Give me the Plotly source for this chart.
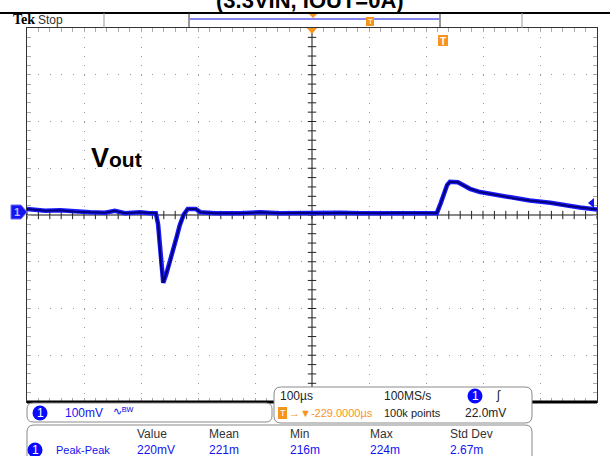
import plotly.graph_objects as go

# Vout trace (time in µs from screen centre, volts in mV from centre line)
time_us = [-500, -486, -468, -442, -416, -389, -363, -346, -328, -302, -284, -274,
           -270, -268, -265, -261, -256, -249, -244, -237, -232, -225, -218, -204, -196,
           -170, -126, -91, -56, -21, 14, 49, 84, 119, 154, 189, 219,
           226, 232, 237, 242, 256, 265, 277, 295, 321, 353, 382, 418, 447, 470, 500]
volt_mv = [13, 11, 9, 10, 7, 6, 5, 9, 4, 6, 4, 4,
           -20, -53, -107, -145, -128, -100, -76, -45, -22, 1, 13, 13, 6,
           4, 4, 6, 4, 5, 4, 5, 4, 4, 5, 4, 4,
           26, 49, 64, 71, 70, 64, 56, 49, 43, 36, 31, 26, 20, 16, 12]

title = "(3.3VIN, IOUT=0A)"
ch_scale = "100mV"
timebase = "100µs"
sample_rate = "100MS/s"
trig_pos = "→▼-229.0000µs"
record = "100k points"
trig_level = "22.0mV"
meas_cols = ["Value", "Mean", "Min", "Max", "Std Dev"]
meas_row = ["220mV", "221m", "216m", "224m", "2.67m"]
meas_name = "Peak-Peak"

# screen geometry in pixels
L, R, T, B = 27, 597, 28, 402
W, H = 610, 456
BLUE = "#1414f0"
ORANGE = "#f7941d"
FONT = "Liberation Sans Narrow, Arial Narrow, Liberation Sans, sans-serif"


def px(x):
    return (x - L) / (R - L)


def py(y):
    return (B - y) / (B - T)


def rbox(x0, y0, x1, y1, r):
    rx, ry = r / (R - L), r / (B - T)
    a, b, c, d = px(x0), py(y0), px(x1), py(y1)
    return (f"M{a+rx},{b} L{c-rx},{b} Q{c},{b} {c},{b-ry} L{c},{d+ry} Q{c},{d} {c-rx},{d} "
            f"L{a+rx},{d} Q{a},{d} {a},{d+ry} L{a},{b-ry} Q{a},{b} {a+rx},{b} Z")


fig = go.Figure()

# centre cross tick marks
fig.add_trace(go.Scatter(x=[0] * 41, y=[-400 + 20 * i for i in range(41)], mode="markers",
                         marker=dict(symbol="line-ew", size=6, line=dict(color="#222", width=1)),
                         hoverinfo="skip", showlegend=False))
fig.add_trace(go.Scatter(x=[-500 + 20 * i for i in range(51)], y=[0] * 51, mode="markers",
                         marker=dict(symbol="line-ns", size=6, line=dict(color="#222", width=1)),
                         hoverinfo="skip", showlegend=False))

# the waveform: bright halo plus dark core
fig.add_trace(go.Scatter(x=time_us, y=volt_mv, mode="lines",
                         line=dict(color="#1a1aff", width=4.5), hoverinfo="skip", showlegend=False))
fig.add_trace(go.Scatter(x=time_us, y=volt_mv, mode="lines",
                         line=dict(color="#00007a", width=2), showlegend=False))

shapes = []
# centre lines
shapes.append(dict(type="line", xref="x", yref="paper", x0=0, x1=0, y0=0, y1=1,
                   line=dict(color="#111", width=1), layer="below"))
shapes.append(dict(type="line", xref="paper", yref="y", x0=0, x1=1, y0=0, y1=0,
                   line=dict(color="#111", width=1), layer="below"))
# top rule and header boxes
shapes.append(dict(type="line", xref="paper", yref="paper", x0=px(0), x1=px(W), y0=py(13), y1=py(13),
                   line=dict(color="black", width=2)))
for xx, col in [(104, "#999"), (522, "#999"), (189, "#333"), (440, "#333")]:
    shapes.append(dict(type="line", xref="paper", yref="paper", x0=px(xx), x1=px(xx),
                       y0=py(13), y1=py(28), line=dict(color=col, width=1)))
shapes.append(dict(type="line", xref="paper", yref="paper", x0=px(189), x1=px(440),
                   y0=py(19), y1=py(19), line=dict(color="#8585f0", width=2)))
shapes.append(dict(type="path", xref="paper", yref="paper",
                   path=f"M{px(309)},{py(14)} L{px(317)},{py(14)} L{px(313)},{py(18)} Z",
                   fillcolor=ORANGE, line=dict(width=0)))
shapes.append(dict(type="rect", xref="paper", yref="paper", x0=px(366), x1=px(374),
                   y0=py(17), y1=py(26), fillcolor=ORANGE, line=dict(width=0)))
# trigger markers on the screen
shapes.append(dict(type="path", xref="paper", yref="paper",
                   path=f"M{px(307)},{py(28)} L{px(317)},{py(28)} L{px(312)},{py(34)} Z",
                   fillcolor=ORANGE, line=dict(width=0)))
shapes.append(dict(type="rect", xref="paper", yref="paper", x0=px(438), x1=px(448),
                   y0=py(35), y1=py(46), fillcolor=ORANGE, line=dict(width=0)))
# ground marker and trigger level arrow
shapes.append(dict(type="path", xref="paper", yref="paper",
                   path=f"M{px(11)},{py(205)} L{px(21)},{py(205)} L{px(27)},{py(212)} "
                        f"L{px(21)},{py(219)} L{px(11)},{py(219)} Z",
                   fillcolor=BLUE, line=dict(color="#6c6cff", width=1)))
shapes.append(dict(type="path", xref="paper", yref="paper",
                   path=f"M{px(588)},{py(203)} L{px(594)},{py(198)} L{px(594)},{py(208)} Z",
                   fillcolor=BLUE, line=dict(width=0)))
# thick bottom edge
shapes.append(dict(type="line", xref="paper", yref="paper", x0=0, x1=1, y0=0, y1=0,
                   line=dict(color="black", width=3)))
# readout boxes
for box in [(27, 403, 272, 422, 6), (274, 387, 532, 423, 7), (27, 425, 532, 475, 7)]:
    shapes.append(dict(type="path", xref="paper", yref="paper", path=rbox(*box),
                       fillcolor="white", line=dict(color="#8a8a8a", width=1)))
for cx, cy in [(40, 413), (475, 396), (35, 450)]:
    shapes.append(dict(type="circle", xref="paper", yref="paper", x0=px(cx - 7.5), x1=px(cx + 7.5),
                       y0=py(cy - 7.5), y1=py(cy + 7.5), fillcolor="#0a0aff", line=dict(width=0)))
shapes.append(dict(type="rect", xref="paper", yref="paper", x0=px(278), x1=px(287),
                   y0=py(407), y1=py(419), fillcolor=ORANGE, line=dict(width=0)))

anns = []


def txt(x, y, s, color="#222", size=11, anchor="left", family=FONT):
    anns.append(dict(x=px(x), y=py(y), xref="paper", yref="paper", text=s, showarrow=False,
                     xanchor=anchor, yanchor="middle", font=dict(family=family, size=size, color=color)))


txt(310, 1, f"<b>{title}</b>", color="black", size=22, anchor="center", family="Liberation Sans, Arial")
txt(11, 20, "<b>Tek</b>", color="black", size=14, family="Liberation Serif")
txt(36, 20, "Stop", color="#333", size=12)
txt(370, 22, "T", color="white", size=8, anchor="center", family="Liberation Sans")
txt(443, 41, "<b>T</b>", color="white", size=10, anchor="center", family="Liberation Sans")
txt(17, 212, "<b>1</b>", color="#b8b8ff", size=11, anchor="center", family="Liberation Sans")
txt(89, 158, "<b><span style='font-size:27px'>V</span>out</b>", color="black", size=21,
    family="Liberation Sans, Arial")

txt(40, 413, "1", color="white", size=12, anchor="center")
txt(63, 413, ch_scale, color=BLUE, size=12)
txt(111, 411, "∿ᴮᵂ", color=BLUE, size=11)
txt(278, 396, timebase, size=12)
txt(382, 396, sample_rate, size=12)
txt(475, 396, "1", color="white", size=12, anchor="center")
txt(494, 395, "ʃ", color="#222", size=12)
txt(282.5, 413, "T", color="white", size=9, anchor="center", family="Liberation Sans")
txt(287, 413, trig_pos, color=ORANGE)
txt(382, 413, record)
txt(463, 413, trig_level, size=12)
for xx, head, val in zip([135, 207, 288, 368, 448], meas_cols, meas_row):
    txt(xx, 434, head, color="#333", size=12)
    txt(xx, 450, val, color=BLUE, size=12)
txt(35, 450, "1", color="white", size=12, anchor="center")
txt(54, 450, meas_name, color=BLUE)

axis_common = dict(showticklabels=False, zeroline=False, showline=True, linecolor="#333",
                   linewidth=1, mirror="allticks", ticks="inside", ticklen=4, tickcolor="#aaa",
                   gridcolor="#9a9a9a", gridwidth=1)
fig.update_xaxes(range=[-500, 500], dtick=100, tick0=0, griddash="1px,8.35px",
                 minor=dict(dtick=20, ticks="inside", ticklen=4, tickcolor="#aaa", showgrid=False),
                 **axis_common)
fig.update_yaxes(range=[-400, 400], dtick=100, tick0=0, griddash="1px,10.4px",
                 minor=dict(dtick=20, ticks="inside", ticklen=4, tickcolor="#aaa", showgrid=False),
                 **axis_common)

fig.update_layout(width=W, height=H, margin=dict(l=L, r=W - R, t=T, b=H - B),
                  paper_bgcolor="white", plot_bgcolor="white", shapes=shapes, annotations=anns,
                  showlegend=False)

# the page's default body margin would shift the whole screen by 8px
fig.write_html("out.html", config={"displayModeBar": False},
               post_script="document.body.style.margin = '0px';")
